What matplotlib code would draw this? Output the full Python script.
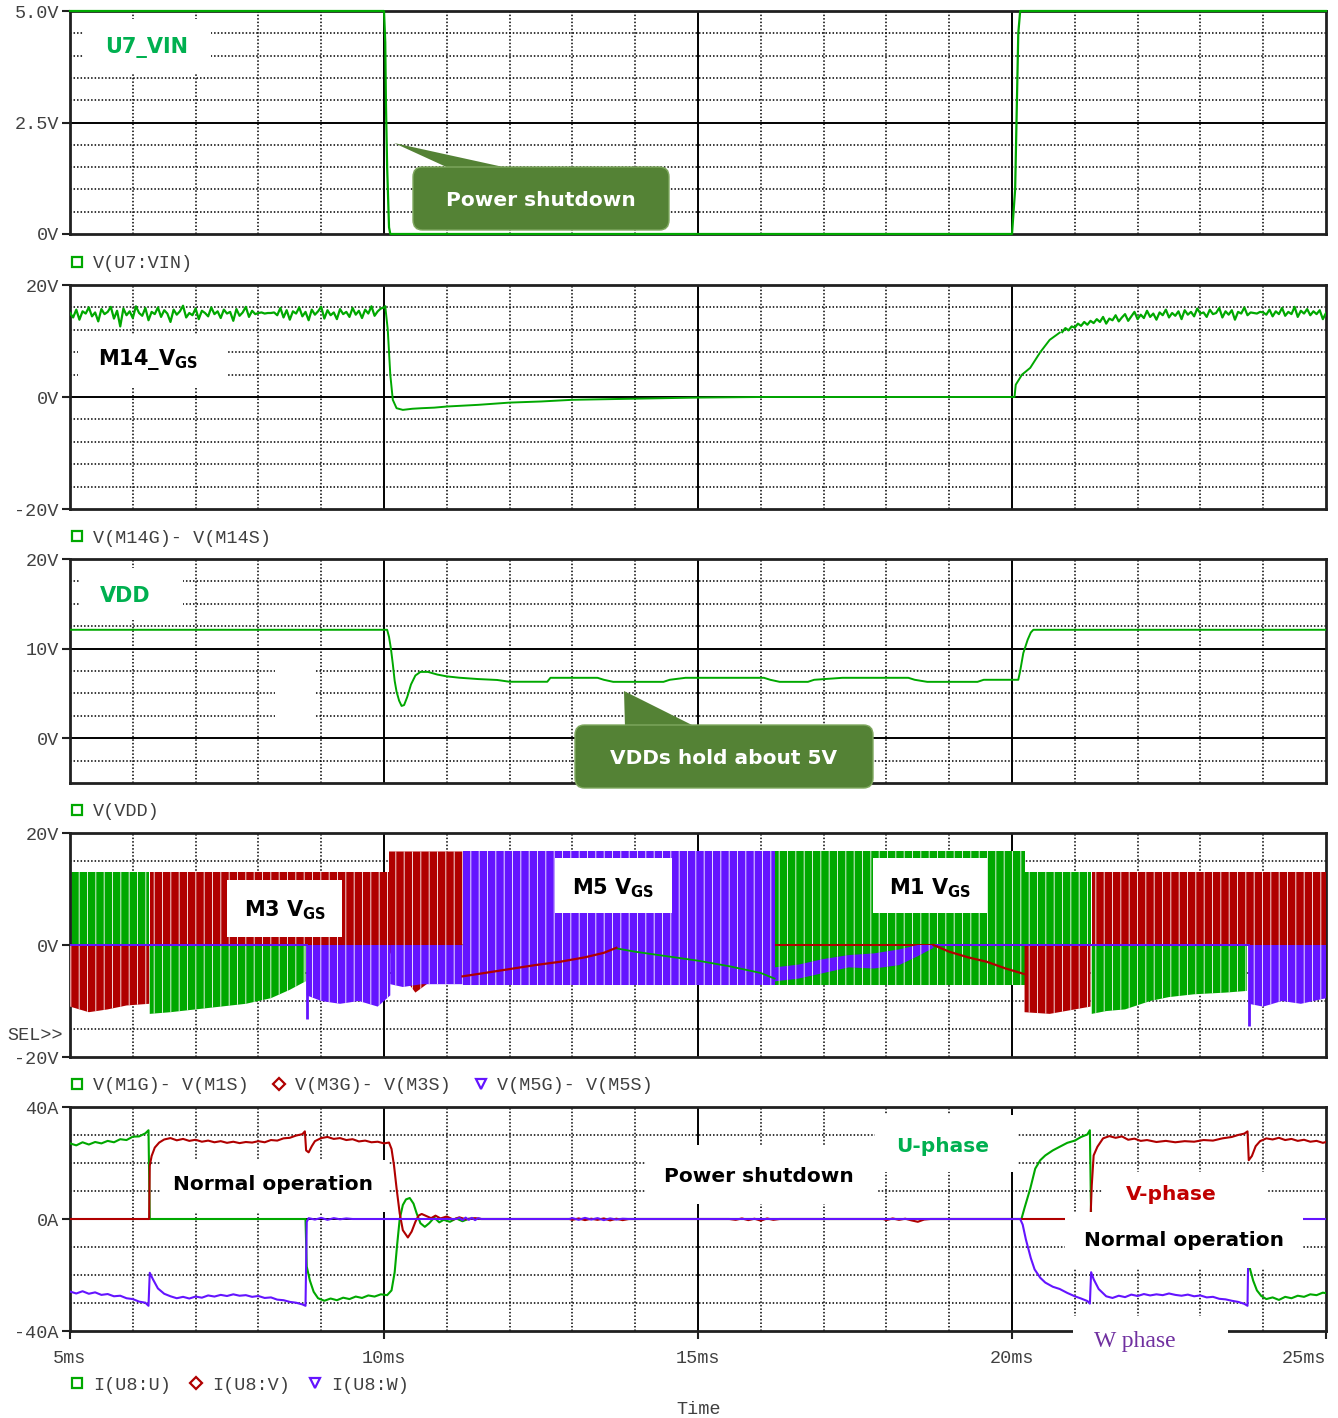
import numpy as np
import matplotlib
matplotlib.use("Agg")
import matplotlib.pyplot as plt
from matplotlib.patches import Rectangle, FancyBboxPatch, Polygon
from matplotlib.lines import Line2D

plt.rcParams['font.family'] = ['Liberation Mono', 'DejaVu Sans']
plt.rcParams['mathtext.fontset'] = 'dejavusans'
# thin white stripes inside the switching blocks
plt.rcParams['hatch.color'] = 'white'
plt.rcParams['hatch.linewidth'] = 0.6

GREEN = '#00a800'
RED = '#b00000'
BLUE = '#6414ff'
TXT = '#404040'

# ---------------- data (time in ms) ----------------
# U7 input voltage
vin_t = [5.0, 10.0, 10.02, 10.03, 10.05, 10.08, 10.1, 20.0, 20.05, 20.1, 20.13, 25.0]
vin_v = [5.0, 5.0, 4.3, 3.0, 1.5, 0.15, 0.0, 0.0, 1.0, 4.5, 5.0, 5.0]

# M14 gate-source voltage
m14_pre_t = np.linspace(5.0, 10.0, 101)
m14_pre_v = [15.0, 14.2, 15.6, 13.8, 15.3, 14.9, 16.0, 14.4, 15.1, 13.5,
             15.7, 14.8, 15.2, 16.1, 14.0, 15.4, 12.6, 15.8, 14.6, 15.3,
             14.1, 16.2, 15.0, 14.5, 15.9, 13.7, 15.2, 14.8, 16.0, 14.3,
             15.5, 14.9, 13.4, 15.6, 14.7, 15.3, 16.3, 14.2, 15.0, 14.6,
             15.8, 13.9, 15.4, 15.0, 14.4, 16.0, 14.8, 15.3, 14.1, 15.6,
             14.9, 15.2, 13.6, 15.7, 14.5, 15.1, 16.1, 14.3, 15.4, 14.8,
             15.0, 15.1, 14.9, 15.0, 15.0, 15.1, 14.6, 15.9, 14.2, 15.5,
             13.8, 15.3, 14.9, 16.0, 14.4, 15.2, 13.7, 15.6, 14.7, 15.3,
             16.1, 14.0, 15.5, 14.6, 15.1, 13.9, 15.7, 14.8, 15.2, 14.3,
             15.9, 14.7, 15.4, 14.1, 15.6, 14.9, 16.2, 14.5, 15.3, 15.8, 16.0]
m14_off_t = [10.02, 10.06, 10.1, 10.14, 10.2, 10.3, 10.45, 10.6, 10.8, 11.0, 11.5,
             12.0, 12.5, 13.0, 14.0, 15.0, 16.0, 18.0, 20.0, 20.04, 20.06, 20.16,
             20.29, 20.45, 20.6, 20.76]
m14_off_v = [16.2, 12.0, 4.0, -0.5, -2.0, -2.3, -2.1, -2.0, -1.9, -1.7, -1.4,
             -1.0, -0.8, -0.5, -0.3, -0.1, 0.0, 0.0, 0.0, 0.0, 2.2, 4.0,
             5.2, 8.0, 10.2, 11.5]
m14_post_t = np.linspace(20.8, 25.0, 85)
m14_post_v = [11.6, 12.3, 11.9, 12.6, 12.4, 13.1, 12.7, 13.4, 12.9, 13.6,
              13.2, 13.9, 13.4, 14.3, 13.1, 14.0, 13.7, 14.6, 13.5, 14.2,
              14.8, 13.6, 14.4, 15.2, 13.9, 14.7, 14.1, 15.4, 14.3, 14.9,
              13.8, 15.1, 14.6, 15.6, 14.2, 15.0, 14.5, 15.3, 13.9, 15.5,
              14.7, 15.2, 14.4, 15.8, 14.9, 15.1, 14.3, 15.6, 14.8, 15.0,
              15.9, 14.2, 15.3, 14.7, 15.5, 13.8, 15.2, 14.9, 16.0, 14.6,
              15.1, 15.0, 14.9, 15.2, 15.1, 14.7, 15.6, 14.4, 15.3, 14.8,
              15.9, 14.5, 15.2, 14.8, 16.1, 14.3, 15.4, 14.9, 15.7, 14.6,
              15.3, 14.8, 15.5, 13.9, 15.0]

# VDD supply
vdd_t = [5.0, 10.05, 10.08, 10.11, 10.14, 10.17, 10.2, 10.24, 10.28, 10.32, 10.37,
         10.43, 10.5, 10.58, 10.7, 10.85, 11.0, 11.2, 11.5, 11.8, 12.0, 12.6, 12.65,
         13.4, 13.5, 13.65, 14.45, 14.55, 14.8, 16.05, 16.15, 16.3, 16.75, 16.85,
         17.3, 18.35, 18.45, 18.65, 19.45, 19.55, 20.1, 20.13, 20.18, 20.25, 20.3,
         20.34, 25.0]
vdd_v = [12.1, 12.1, 11.3, 10.0, 8.3, 6.4, 5.2, 4.2, 3.6, 3.7, 4.6,
         6.0, 7.0, 7.4, 7.4, 7.1, 6.9, 6.75, 6.6, 6.5, 6.3, 6.3, 6.74,
         6.74, 6.52, 6.29, 6.29, 6.52, 6.74, 6.74, 6.52, 6.29, 6.29, 6.52,
         6.74, 6.74, 6.52, 6.29, 6.29, 6.52, 6.52, 7.5, 9.5, 11.0, 11.8,
         12.1, 12.1]

# gate drive envelopes: (time, lower, upper) for each switching block
m1_bands = [([5.0, 6.26], 0.0, 13.0),
            ([6.27, 6.6, 7.0, 7.4, 7.8, 8.2, 8.5, 8.75],
             [-12.3, -12.0, -11.5, -11.0, -10.5, -9.5, -8.0, -6.5], 0.0),
            ([16.22, 20.2], -7.2, 16.7),
            ([20.2, 21.25], 0.0, 13.0),
            ([21.27, 21.5, 21.8, 22.2, 22.5, 22.9, 23.4, 23.74],
             [-12.3, -11.8, -11.5, -10.0, -9.3, -8.8, -8.5, -8.2], 0.0)]
m3_bands = [([5.0, 5.3, 5.6, 5.9, 6.26], [-11.0, -12.0, -11.5, -10.8, -10.5], 0.0),
            ([6.27, 10.08], 0.0, 13.0),
            ([10.08, 10.3, 10.5, 10.8, 11.25], [-1.0, -5.5, -8.5, -6.0, -5.5], 16.7),
            ([20.2, 20.6, 21.0, 21.25], [-12.0, -12.3, -11.5, -11.0], 0.0),
            ([21.27, 25.0], 0.0, 13.0)]
m5_bands = [([8.77, 9.0, 9.3, 9.6, 9.9, 10.1], [-9.0, -10.0, -10.5, -10.0, -11.0, -9.0], 0.0),
            ([10.1, 10.3, 10.6, 11.25], [-7.0, -7.5, -7.0, -7.0], 0.0),
            ([11.25, 16.22], -7.2, 16.7),
            ([16.22, 16.6, 17.0, 17.4, 17.8, 18.2, 18.5, 18.75],
             [-6.5, -6.0, -5.0, -4.0, -4.2, -3.6, -2.0, -0.5],
             [-4.0, -3.5, -2.5, -1.8, -1.5, -0.8, 0.0, 0.0]),
            ([23.77, 24.0, 24.3, 24.6, 25.0], [-10.5, -11.0, -10.0, -10.5, -9.5], 0.0)]
m1_tail_t = [13.7, 14.0, 14.5, 15.0, 15.5, 16.0, 16.22]
m1_tail_v = [-0.6, -1.2, -2.0, -2.8, -3.8, -5.0, -6.0]
m3_tail_t = [11.25, 11.6, 12.0, 12.4, 12.8, 13.2, 13.5, 13.7]
m3_tail_v = [-5.6, -5.0, -4.3, -3.6, -3.0, -2.2, -1.4, -0.5]
m3_tail2_t = [18.75, 19.0, 19.3, 19.6, 19.9, 20.2]
m3_tail2_v = [0.0, -1.2, -2.2, -3.0, -4.2, -5.2]
m5_spike_t = [8.77, 23.77]
m5_spike_v = [-13.2, -14.4]
m5_zero_spans = [(5.0, 8.77), (18.75, 23.77)]

# phase currents
iu_t = [5.0, 5.1, 5.2, 5.3, 5.4, 5.5, 5.6, 5.7, 5.8, 5.9, 6.0, 6.1, 6.2, 6.25, 6.27,
        8.75, 8.77, 8.82, 8.88, 8.95, 9.05, 9.15, 9.25, 9.35, 9.45, 9.55, 9.65, 9.75,
        9.85, 9.95, 10.05, 10.12, 10.17, 10.21, 10.25, 10.3, 10.35, 10.41, 10.47, 10.52,
        10.58, 10.65, 10.72, 10.8, 10.88, 10.95, 11.05, 11.15, 11.25, 11.35, 11.5,
        20.15, 20.2, 20.29, 20.37, 20.45, 20.53, 20.65, 20.76, 20.88, 21.0, 21.1, 21.2,
        21.24, 21.26, 23.76, 23.78, 23.84, 23.9, 23.97, 24.05, 24.15, 24.25, 24.35,
        24.45, 24.55, 24.65, 24.75, 24.85, 24.95, 25.0]
iu_v = [27.0, 26.3, 27.4, 26.6, 27.5, 27.0, 27.9, 27.4, 28.5, 28.2, 29.4, 29.5, 30.6, 31.7, 0.0,
        0.0, -17.0, -22.0, -26.0, -28.3, -29.2, -28.4, -29.0, -28.1, -28.6, -27.7, -28.2, -27.3,
        -27.7, -26.9, -27.2, -25.5, -19.0, -9.0, 0.0, 5.0, 7.0, 7.5, 5.5, 2.0,
        -1.5, -2.8, -1.5, 0.5, -1.2, -0.3, -1.0, 0.2, -0.8, 0.1, 0.0,
        0.0, 4.0, 10.8, 18.0, 21.0, 22.7, 24.5, 25.8, 27.2, 28.0, 29.3, 30.2,
        31.7, 0.0, 0.0, -17.0, -22.0, -25.5, -27.5, -28.6, -28.0, -28.9, -27.8,
        -28.3, -27.4, -27.8, -26.9, -27.2, -26.3, -26.5]
iv_t = [5.0, 6.26, 6.27, 6.3, 6.35, 6.42, 6.5, 6.6, 6.7, 6.8, 6.9, 7.0, 7.1, 7.2, 7.3, 7.4,
        7.5, 7.6, 7.7, 7.8, 7.9, 8.0, 8.1, 8.2, 8.3, 8.4, 8.5, 8.6, 8.7, 8.74, 8.76, 8.8,
        8.85, 8.9, 9.0, 9.1, 9.2, 9.3, 9.4, 9.5, 9.6, 9.7, 9.8, 9.9, 10.0, 10.08, 10.12,
        10.16, 10.2, 10.25, 10.3, 10.38, 10.44, 10.5, 10.55, 10.6, 10.68, 10.75, 10.82,
        10.9, 11.0, 11.1, 11.2, 11.3, 11.45, 11.55,
        12.95, 13.0, 13.1, 13.2, 13.3, 13.4, 13.5, 13.6, 13.7, 13.8, 13.9,
        15.5, 15.6, 15.7, 15.8, 15.9, 16.0, 16.1, 16.2, 16.3,
        17.95, 18.0, 18.1, 18.2, 18.3, 18.4, 18.5, 18.6, 18.7,
        21.25, 21.27, 21.3, 21.36, 21.45, 21.55, 21.65, 21.75, 21.85, 21.95, 22.05, 22.15,
        22.3, 22.45, 22.6, 22.75, 22.9, 23.05, 23.2, 23.35, 23.5, 23.6, 23.7, 23.75, 23.77,
        23.82, 23.88, 23.95, 24.05, 24.15, 24.25, 24.35, 24.45, 24.55, 24.65, 24.75,
        24.85, 24.95, 25.0]
iv_v = [0.0, 0.0, 19.0, 22.5, 25.5, 27.3, 28.4, 28.9, 28.1, 28.6, 27.9, 28.3, 27.6, 28.0, 27.4, 27.8,
        27.2, 27.6, 27.1, 27.5, 27.3, 27.8, 27.4, 28.2, 28.0, 28.8, 29.0, 29.8, 30.3, 31.3, 24.5, 23.8,
        26.0, 27.8, 28.9, 29.3, 28.6, 28.9, 28.2, 28.5, 27.7, 28.0, 27.4, 27.6, 27.0, 27.3, 25.0,
        19.0, 11.0, 2.0, -4.0, -6.6, -4.5, -1.0, 1.2, 1.8, 1.0, 0.3, 1.2,
        0.2, 0.9, -0.2, 0.6, -0.1, 0.3, 0.0,
        0.0, -0.3, 0.2, -0.4, 0.1, -0.3, 0.2, -0.5, 0.1, -0.4, 0.0,
        0.0, -0.3, 0.2, -0.4, 0.1, -0.6, 0.2, -0.3, 0.0,
        0.0, -0.4, 0.2, -0.3, 0.1, -0.5, -1.0, -0.2, 0.0,
        0.0, 12.0, 22.7, 25.8, 28.8, 29.6, 29.0, 29.5, 28.3, 28.7, 27.9, 28.2,
        27.5, 27.9, 27.4, 27.8, 27.6, 28.2, 28.0, 28.8, 29.3, 30.0, 30.5, 31.3, 21.0,
        22.5, 26.0, 27.8, 28.8, 28.4, 29.0, 28.2, 28.6, 27.9, 28.3, 27.6,
        27.9, 27.2, 27.5]
iw_t = [5.0, 5.1, 5.2, 5.3, 5.4, 5.5, 5.6, 5.7, 5.8, 5.9, 6.0, 6.1, 6.2, 6.25, 6.27, 6.32,
        6.4, 6.5, 6.6, 6.7, 6.8, 6.9, 7.0, 7.1, 7.2, 7.3, 7.4, 7.5, 7.6, 7.7, 7.8, 7.9,
        8.0, 8.1, 8.2, 8.3, 8.4, 8.5, 8.6, 8.7, 8.75, 8.77, 8.8, 8.9, 9.0, 9.1, 9.2, 9.3,
        9.4, 9.5, 11.15, 11.2, 11.25, 11.3, 11.35, 11.4, 11.45, 11.5, 11.55,
        12.95, 13.0, 13.1, 13.2, 13.3, 13.4, 13.5, 13.6, 13.7, 13.8, 13.9,
        20.13, 20.17, 20.22, 20.3, 20.36, 20.45, 20.53, 20.65, 20.76, 20.88, 21.0, 21.1,
        21.2, 21.24, 21.26, 21.3, 21.38, 21.5, 21.6, 21.7, 21.8, 21.9, 22.0, 22.1, 22.2,
        22.3, 22.4, 22.5, 22.6, 22.7, 22.8, 22.9, 23.0, 23.1, 23.2, 23.3, 23.4, 23.5,
        23.6, 23.7, 23.75, 23.77, 25.0]
iw_v = [-25.9, -26.6, -25.8, -26.7, -26.2, -27.1, -26.8, -27.6, -27.4, -28.3, -28.6, -29.5, -29.9, -31.0, -19.2, -21.5,
        -24.8, -26.7, -27.6, -28.3, -27.8, -28.4, -27.7, -28.1, -27.3, -27.7, -27.1, -27.5, -26.9, -27.4, -27.2, -27.8,
        -27.5, -28.2, -28.0, -28.8, -29.0, -29.6, -29.9, -30.5, -31.0, -1.0, 0.3, -0.2, 0.4, -0.3, 0.3, -0.1,
        0.2, 0.0, 0.0, 0.4, -0.4, 0.5, -0.3, 0.4, -0.4, 0.3, 0.0,
        0.0, 0.3, -0.3, 0.4, -0.2, 0.3, -0.4, 0.2, -0.2, 0.1, 0.0,
        0.0, -2.0, -7.2, -14.0, -18.0, -21.0, -22.7, -24.2, -25.0, -26.4, -27.6, -28.4,
        -29.3, -30.2, -19.0, -21.5, -25.0, -27.6, -28.2, -27.4, -27.9, -27.0, -27.5, -26.8, -27.3,
        -26.9, -27.2, -26.6, -27.1, -27.4, -27.0, -27.6, -27.3, -28.0, -27.8, -28.5, -28.7, -29.2,
        -29.6, -30.3, -31.0, 0.0, 0.0]

# ---------------- figure ----------------
W, H = 1338, 1418
fig = plt.figure(figsize=(W / 100, H / 100), dpi=100, facecolor='white')


def fx(x):
    return x / W


def fy(y):
    return 1 - y / H


def panel(top, bottom):
    return fig.add_axes([fx(70), fy(bottom), fx(1326) - fx(70), (bottom - top) / H])


DOT = (0, (1.0, 1.3))


def setup(ax, ylim, ticks, labels, minor, major):
    ax.set_xlim(5, 25)
    ax.set_ylim(*ylim)
    for t in range(6, 25):
        if t % 5:
            ax.axvline(t, color='black', lw=1.1, ls=DOT, zorder=1)
    for t in (10, 15, 20):
        ax.axvline(t, color='black', lw=1.4, zorder=1)
    for v in minor:
        ax.axhline(v, color='black', lw=1.1, ls=DOT, zorder=1)
    for v in major:
        ax.axhline(v, color='black', lw=1.4, zorder=1)
    ax.set_yticks(ticks, labels)
    ax.set_xticks([])
    ax.tick_params(axis='y', length=6, width=1.5, pad=2, labelsize=13.3,
                   labelcolor=TXT, color='#202020')
    for s in ax.spines.values():
        s.set_linewidth(2)
        s.set_color('#202020')


ax1 = panel(11, 234)
setup(ax1, (0, 5), [0, 2.5, 5], ['0V', '2.5V', '5.0V'],
      [0.5, 1, 1.5, 2, 3, 3.5, 4, 4.5], [2.5])
ax1.plot(vin_t, vin_v, color=GREEN, lw=1.6, zorder=4, clip_on=False)

ax2 = panel(285, 509)
setup(ax2, (-20, 20), [-20, 0, 20], ['-20V', '0V', '20V'],
      [-16, -12, -8, -4, 4, 8, 12, 16], [0])
ax2.plot(m14_pre_t, m14_pre_v, color=GREEN, lw=1.6, zorder=3)
ax2.plot(m14_off_t, m14_off_v, color=GREEN, lw=1.4, zorder=3)
ax2.plot(m14_post_t, m14_post_v, color=GREEN, lw=1.6, zorder=3)

ax3 = panel(559, 783)
setup(ax3, (-5, 20), [0, 10, 20], ['0V', '10V', '20V'],
      [-2.5, 2.5, 5, 7.5, 12.5, 15, 17.5], [0, 10])
ax3.plot(vdd_t, vdd_v, color=GREEN, lw=1.4, zorder=3)

ax4 = panel(833, 1057)
setup(ax4, (-20, 20), [-20, 0, 20], ['-20V', '0V', '20V'],
      [-15, -10, -5, 5, 10, 15], [0])
for t, lo, hi in m1_bands:
    ax4.fill_between(t, lo, hi, facecolor=GREEN, hatch='||', lw=0, zorder=2)
ax4.plot(m1_tail_t, m1_tail_v, color=GREEN, lw=1.3, zorder=5)
ax4.plot([13.7, 25.0], [0, 0], color=RED, lw=1.4, zorder=3)
for t, lo, hi in m3_bands:
    ax4.fill_between(t, lo, hi, facecolor=RED, hatch='||', lw=0, zorder=3)
ax4.plot(m3_tail_t, m3_tail_v, color=RED, lw=1.6, zorder=5)
ax4.plot(m3_tail2_t, m3_tail2_v, color=RED, lw=1.6, zorder=5)
for t, lo, hi in m5_bands:
    ax4.fill_between(t, lo, hi, facecolor=BLUE, hatch='||', lw=0, zorder=4)
for a, b in m5_zero_spans:
    ax4.plot([a, b], [0, 0], color=BLUE, lw=1.4, zorder=4)
ax4.vlines(m5_spike_t, 0, m5_spike_v, color=BLUE, lw=2, zorder=4)

ax5 = panel(1107, 1331)
setup(ax5, (-40, 40), [-40, 0, 40], ['-40A', '0A', '40A'],
      [-30, -20, -10, 10, 20, 30], [0])
ax5.plot(iu_t, iu_v, color=GREEN, lw=1.5, zorder=3)
ax5.plot(iv_t, iv_v, color=RED, lw=1.5, zorder=3)
ax5.plot(iw_t, iw_v, color=BLUE, lw=1.5, zorder=3)
ax5.set_xticks([5, 10, 15, 20, 25], ['5ms', '10ms', '15ms', '20ms', '25ms'])
ax5.tick_params(axis='x', length=6, width=1.5, pad=8, labelsize=13.3,
                labelcolor=TXT, color='#202020')
ax5.get_xticklabels()[-1].set_ha('right')

# ---------------- legends ----------------
legend_rows = [
    (262, [('s', GREEN, 'V(U7:VIN)', 77)]),
    (536, [('s', GREEN, 'V(M14G)- V(M14S)', 77)]),
    (810, [('s', GREEN, 'V(VDD)', 77)]),
    (1084, [('s', GREEN, 'V(M1G)- V(M1S)', 77), ('D', RED, 'V(M3G)- V(M3S)', 279),
            ('v', BLUE, 'V(M5G)- V(M5S)', 481)]),
    (1383, [('s', GREEN, 'I(U8:U)', 77), ('D', RED, 'I(U8:V)', 196),
            ('v', BLUE, 'I(U8:W)', 315)]),
]
for y, items in legend_rows:
    for mk, col, label, x in items:
        fig.add_artist(Line2D([fx(x)], [fy(y)], marker=mk, ms=7 if mk != 'D' else 6,
                              mfc='none', mec=col, mew=1.6, transform=fig.transFigure))
        fig.text(fx(x + 16), fy(y + 2), label, ha='left', va='center', fontsize=13.3, color=TXT)
fig.text(fx(699), fy(1410), 'Time', ha='center', va='center', fontsize=13.3, color=TXT)
fig.text(fx(35), fy(1035), 'SEL>>', ha='center', va='center', fontsize=13.3, color=TXT)


# ---------------- labels and callouts ----------------
def blank(x0, y0, x1, y1):
    fig.add_artist(Rectangle((fx(x0), fy(y1)), fx(x1) - fx(x0), (y1 - y0) / H,
                             transform=fig.transFigure, fc='white', ec='none'))


def label(x, y, s, color='black', size=14.5, **kw):
    fig.text(fx(x), fy(y), s, ha='center', va='center', fontsize=size, color=color,
             family='DejaVu Sans', weight='bold', **kw)


blank(83, 19, 211, 74)
label(147, 47, 'U7_VIN', color='#00b050', size=15)
blank(78, 335, 228, 388)
label(148, 360, r'$\mathbf{M14\_V_{GS}}$', size=15)
blank(80, 568, 183, 620)
label(125, 596, 'VDD', color='#00b050', size=15)
blank(275, 660, 315, 722)
blank(227, 880, 342, 937)
label(285, 910, r'$\mathbf{M3\ V_{GS}}$', size=15)
blank(555, 858, 672, 913)
label(613, 888, r'$\mathbf{M5\ V_{GS}}$', size=15)
blank(873, 858, 987, 913)
label(930, 888, r'$\mathbf{M1\ V_{GS}}$', size=15)

blank(160, 1160, 389, 1212)
label(273, 1184, 'Normal operation')
blank(645, 1145, 877, 1204)
label(759, 1177, 'Power shutdown')
blank(875, 1115, 1018, 1172)
label(943, 1146, 'U-phase', color='#00b050')
blank(1103, 1172, 1268, 1212)
label(1171, 1195, 'V-phase', color='#c00000')
blank(1065, 1212, 1303, 1268)
label(1184, 1241, 'Normal operation')
blank(1073, 1316, 1228, 1358)
fig.text(fx(1135), fy(1341), 'W phase', ha='center', va='center', fontsize=17,
         color='#7030a0', family='Liberation Serif')

CALLOUT = '#548235'


def callout(x0, y0, x1, y1, tri, text):
    fig.add_artist(Polygon([(fx(x), fy(y)) for x, y in tri], closed=True,
                           transform=fig.transFigure, fc=CALLOUT, ec='none'))
    fig.add_artist(FancyBboxPatch((fx(x0), fy(y1)), fx(x1) - fx(x0), (y1 - y0) / H,
                                  boxstyle='round,pad=0,rounding_size=0.007',
                                  transform=fig.transFigure, fc=CALLOUT,
                                  ec='#7fa85f', lw=1))
    label((x0 + x1) / 2, (y0 + y1) / 2 + 2, text, color='white')


callout(413, 167, 669, 230, [(394, 143), (453, 170), (517, 170)], 'Power shutdown')
callout(575, 725, 873, 788, [(624, 691), (625, 728), (698, 728)], 'VDDs hold about 5V')

fig.savefig('out.png', dpi=100, facecolor='white')
